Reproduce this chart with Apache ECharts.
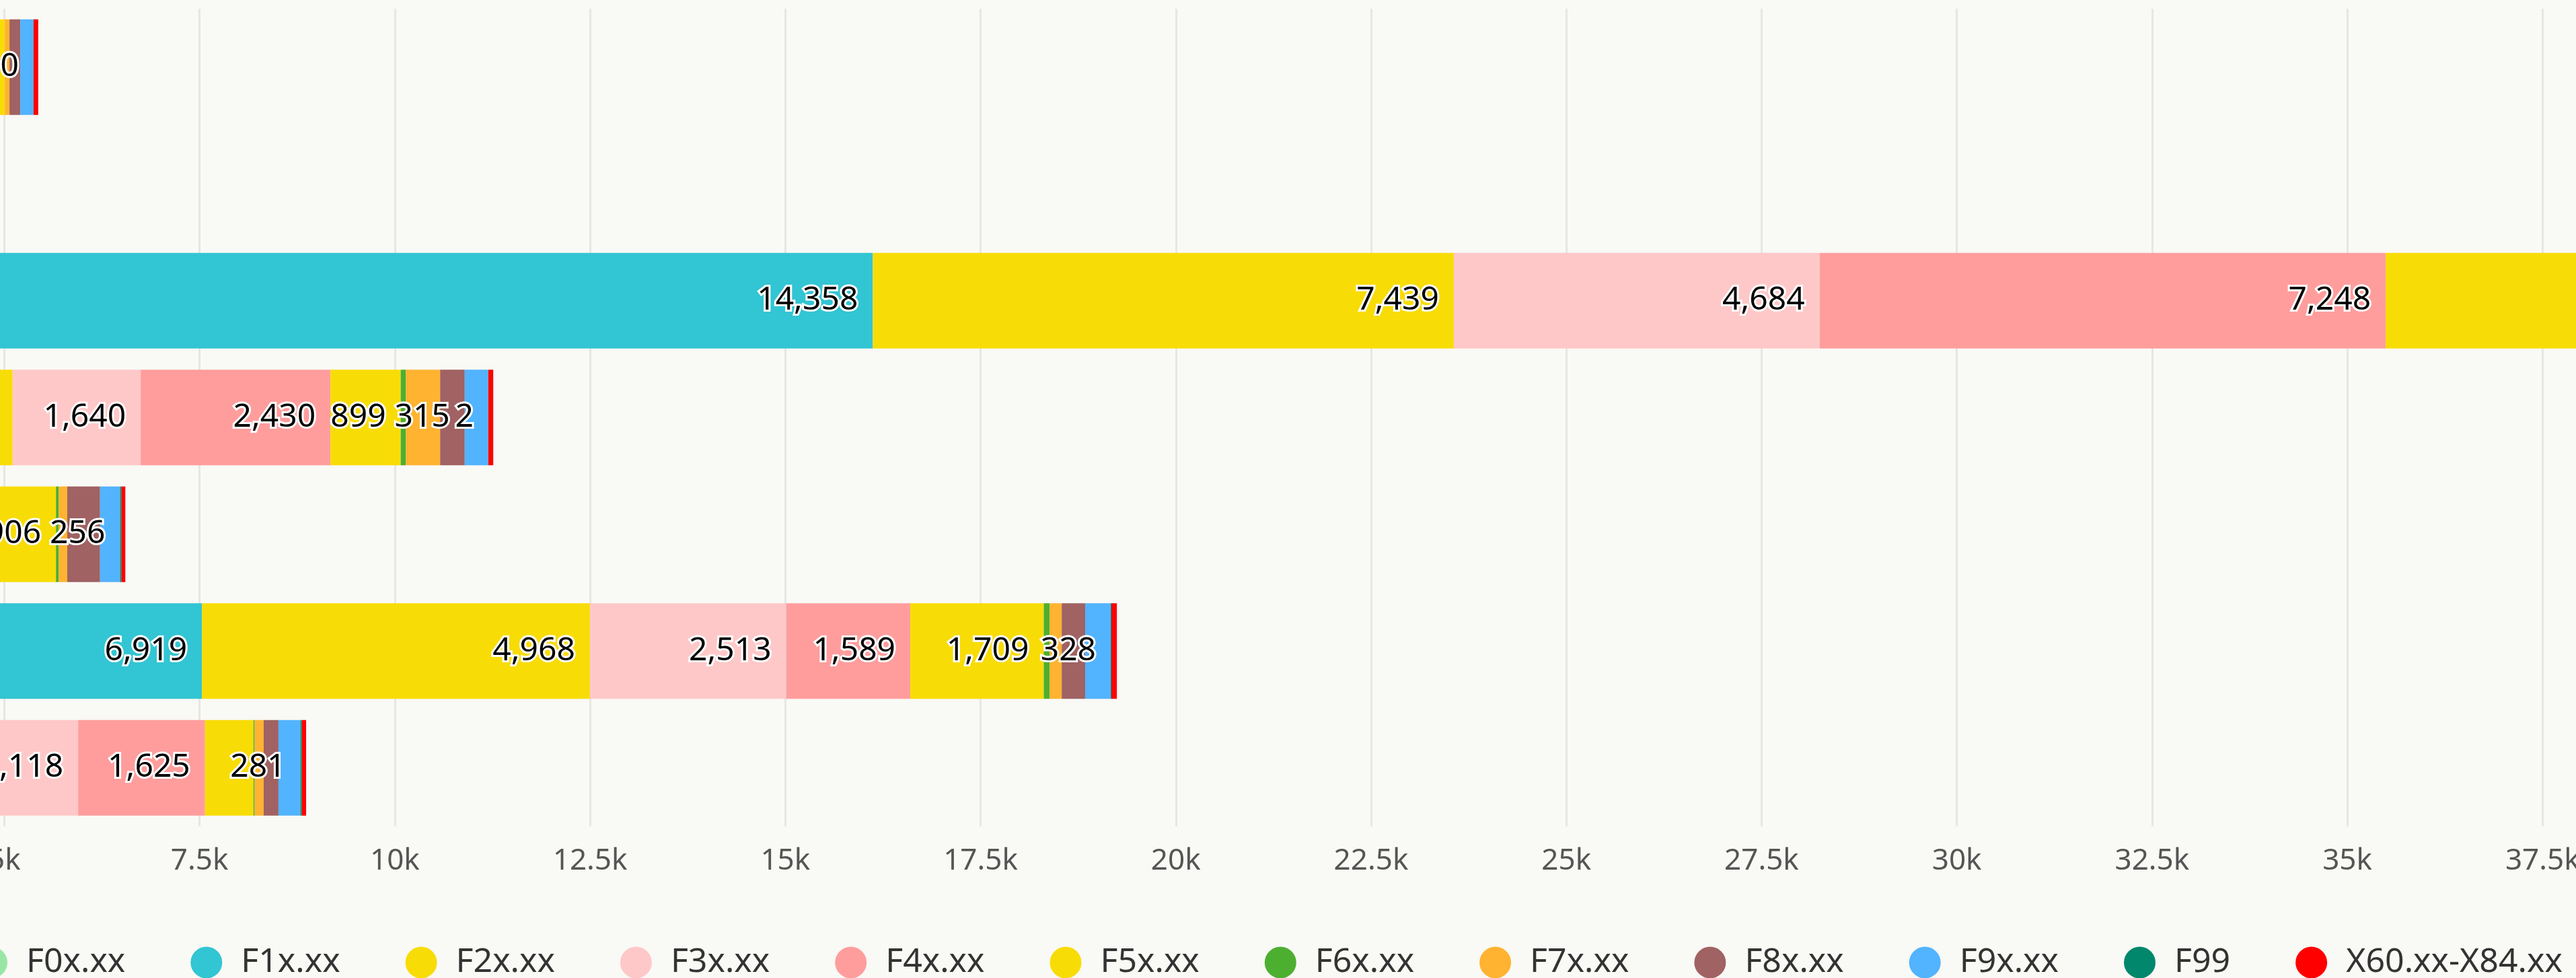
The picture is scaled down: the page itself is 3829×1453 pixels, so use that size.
<!DOCTYPE html>
<html>
<head>
    <meta charset="utf-8"/>
    <title>Stacked bars</title>
    <script src="https://cdn.jsdelivr.net/npm/echarts@6/dist/echarts.min.js"></script>
    <style>
        html, body { margin: 0; padding: 0; overflow: hidden; background: #f9f9f5; }
        #wrap { position: relative; width: 3829px; height: 1453px; overflow: hidden; }
        /* chart is wider than the window, its left part sits outside the picture */
        #echart1 { position: absolute; left: -800px; top: 0; width: 5500px; height: 1453px; }
    </style>
</head>
<body>
<div id="wrap"><div id="echart1"></div></div>
<script>
    var categories = ['Line A', 'Line B', 'Line C', 'Line D', 'Line E', 'Line F', 'Line G'];
    var seriesNames = ['F0x.xx', 'F1x.xx', 'F2x.xx', 'F3x.xx', 'F4x.xx', 'F5x.xx',
        'F6x.xx', 'F7x.xx', 'F8x.xx', 'F9x.xx', 'F99', 'X60.xx-X84.xx'];

    var F0x = [300, 0, 1762, 900, 400, 611, 500];
    var F1x = [1800, 0, 14358, 2700, 1900, 6919, 2000];
    var F2x = [1300, 0, 7439, 1506, 1200, 4968, 1327];
    var F3x = [700, 0, 4684, 1640, 600, 2513, 2118];
    var F4x = [300, 0, 7248, 2430, 655, 1589, 1625];
    var F5x = [606, 0, 3900, 899, 906, 1709, 620];
    var F6x = [0, 0, 120, 65, 35, 75, 15];
    var F7x = [60, 0, 300, 440, 110, 155, 115];
    var F8x = [138, 0, 450, 315, 420, 300, 190];
    var F9x = [170, 0, 350, 300, 256, 328, 281];
    var F99 = [0, 0, 10, 2, 17, 8, 18];
    var X60 = [60, 0, 90, 63, 50, 70, 55];

    var values = [F0x, F1x, F2x, F3x, F4x, F5x, F6x, F7x, F8x, F9x, F99, X60];
    var colors = ['#98e6a5', '#32c5d3', '#f8dc06', '#ffc8c8', '#ff9d9d', '#f8dc06',
        '#4daf30', '#ffb330', '#a06262', '#52b3ff', '#00876c', '#ff0000'];

    var Myechart1 = echarts.init(document.getElementById('echart1'));

    var series = [];
    for (var i = 0; i < seriesNames.length; i++) {
        series.push({
            name: seriesNames[i],
            type: 'bar',
            stack: 'total',
            barWidth: 142,
            data: values[i],
            label: {
                show: true,
                position: 'insideRight',
                distance: 22,
                fontFamily: 'Noto Sans',
                fontSize: 48,
                color: '#000',
                textBorderColor: '#fff',
                textBorderWidth: 6,
                formatter: function (p) {
                    return p.value.toLocaleString('en-US');
                }
            },
            labelLayout: {
                hideOverlap: true
            }
        });
    }

    var option1 = {
        animation: false,
        backgroundColor: '#f9f9f5',
        color: colors,
        textStyle: {
            fontFamily: 'Noto Sans'
        },
        legend: {
            left: 759,
            top: 1400,
            icon: 'circle',
            itemWidth: 93,
            itemHeight: 47,
            itemGap: 97,
            textStyle: {
                fontSize: 50,
                color: '#333'
            },
            data: seriesNames
        },
        grid: {
            left: 226,
            top: 13,
            width: 5224,
            height: 1214.5
        },
        xAxis: {
            type: 'value',
            min: 0,
            max: 45000,
            interval: 2500,
            axisLine: {show: false},
            axisTick: {show: false},
            splitLine: {
                lineStyle: {color: '#e6e6e4', width: 3}
            },
            axisLabel: {
                fontSize: 44,
                color: '#555',
                margin: 30,
                formatter: function (v) {
                    return v === 0 ? '0' : (v / 1000) + 'k';
                }
            }
        },
        yAxis: {
            type: 'category',
            inverse: true,
            data: categories,
            axisLine: {show: false},
            axisTick: {show: false}
        },
        series: series
    };
    Myechart1.setOption(option1);
</script>
</body>
</html>
